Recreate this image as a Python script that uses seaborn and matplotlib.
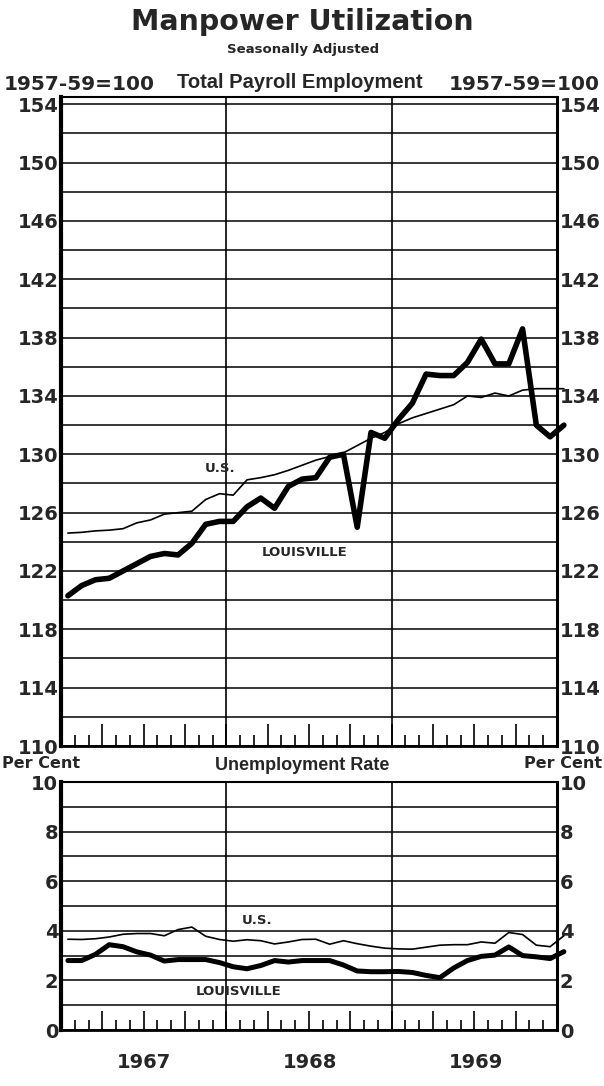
import numpy as np
import pandas as pd
import matplotlib
matplotlib.use("Agg")
import matplotlib.pyplot as plt
import seaborn as sns

# month positions: Jan 1967 .. Jan 1970 (centre of each month)
months = np.arange(37) + 0.5

# Total payroll employment, 1957-59=100
emp_louisville = [120.3, 121.0, 121.4, 121.5, 122.0, 122.5, 123.0, 123.2, 123.1, 123.9, 125.2, 125.4,
                  125.4, 126.4, 127.0, 126.3, 127.8, 128.3, 128.4, 129.8, 130.0, 125.0, 131.5, 131.1,
                  132.4, 133.5, 135.5, 135.4, 135.4, 136.3, 137.9, 136.2, 136.2, 138.6, 132.0, 131.2,
                  132.0]
emp_us = [124.6, 124.65, 124.75, 124.8, 124.9, 125.3, 125.5, 125.9, 126.0, 126.1, 126.9, 127.3,
          127.2, 128.25, 128.4, 128.6, 128.9, 129.25, 129.6, 129.85, 130.1, 130.6, 131.1, 131.5,
          132.1, 132.5, 132.8, 133.1, 133.4, 134.0, 133.9, 134.2, 134.0, 134.4, 134.5, 134.5,
          134.5]

# Unemployment rate, per cent
unemp_louisville = [2.8, 2.8, 3.05, 3.44, 3.36, 3.15, 3.02, 2.78, 2.84, 2.84, 2.84, 2.72,
                    2.55, 2.47, 2.6, 2.8, 2.74, 2.8, 2.8, 2.8, 2.62, 2.38, 2.35, 2.35,
                    2.36, 2.32, 2.2, 2.11, 2.5, 2.8, 2.97, 3.02, 3.35, 3.0, 2.95, 2.88,
                    3.16]
unemp_us = [3.66, 3.65, 3.68, 3.75, 3.86, 3.89, 3.89, 3.8, 4.05, 4.15, 3.78, 3.65,
            3.58, 3.64, 3.6, 3.47, 3.55, 3.65, 3.66, 3.46, 3.6, 3.48, 3.38, 3.3,
            3.27, 3.26, 3.34, 3.42, 3.44, 3.44, 3.55, 3.5, 3.93, 3.85, 3.42, 3.36,
            3.8]

years = ["1967", "1968", "1969"]

emp = pd.DataFrame({"month": months, "louisville": emp_louisville, "us": emp_us})
unemp = pd.DataFrame({"month": months, "louisville": unemp_louisville, "us": unemp_us})

sns.set_style("white")
plt.rcParams["font.family"] = ["DejaVu Sans"]

W, H = 604, 1086
fig = plt.figure(figsize=(W / 100, H / 100), dpi=100)


def rect(x0, y0, x1, y1):
    return [x0 / W, 1 - y1 / H, (x1 - x0) / W, (y1 - y0) / H]


def ftext(x, y, s, **kw):
    fig.text(x / W, 1 - y / H, s, va="center", **kw)


ax1 = fig.add_axes(rect(61, 97, 557, 746))
ax2 = fig.add_axes(rect(61, 782, 557, 1030))

narrow = ["Liberation Sans", "DejaVu Sans"]


def style_axis(ax, ylo, yhi, grid_step, label_step, tall, short):
    ax.set_xlim(0, 36)
    ax.set_ylim(ylo, yhi)
    ax.set_yticks(np.arange(ylo, yhi + 0.01, label_step))
    ax.set_yticks(np.arange(ylo, yhi + 0.01, grid_step), minor=True)
    ax.set_yticklabels([f"{v:g}" for v in np.arange(ylo, yhi + 0.01, label_step)],
                       fontsize=14, fontweight="bold")
    ax.tick_params(axis="y", which="both", length=0, labelleft=True, labelright=True, pad=2)
    ax.grid(axis="y", which="both", color="black", lw=1.1)
    ax.set_xticks(np.arange(0, 37, 3))
    ax.set_xticks(np.arange(0, 37, 1), minor=True)
    ax.set_xticklabels([])
    ax.tick_params(axis="x", which="major", direction="in", length=tall, width=1.2,
                   color="black", bottom=True, top=False)
    ax.tick_params(axis="x", which="minor", direction="in", length=short, width=1.2,
                   color="black", bottom=True, top=False)
    for x in (12, 24):
        ax.axvline(x, color="black", lw=1.2)
    ax.spines["left"].set_linewidth(3.0)
    ax.spines["right"].set_linewidth(2.2)
    ax.spines["top"].set_linewidth(1.5)
    ax.spines["bottom"].set_linewidth(2.0)
    for s in ax.spines.values():
        s.set_color("black")
    ax.set_xlabel("")
    ax.set_ylabel("")


sns.lineplot(data=emp, x="month", y="us", ax=ax1, color="black", lw=1.2, clip_on=False)
sns.lineplot(data=emp, x="month", y="louisville", ax=ax1, color="black", lw=4.0, clip_on=False)
style_axis(ax1, 110, 154, 2, 4, 16, 8)
ax1.set_ylim(110, 154.5)

sns.lineplot(data=unemp, x="month", y="us", ax=ax2, color="black", lw=1.2, clip_on=False)
sns.lineplot(data=unemp, x="month", y="louisville", ax=ax2, color="black", lw=3.6, clip_on=False)
style_axis(ax2, 0, 10, 1, 2, 14, 7.5)

# line labels
ax1.text(11.55, 129.0, "U.S.", fontsize=9.5, fontweight="bold", ha="center", va="center")
ax1.text(17.7, 123.3, "LOUISVILLE", fontsize=9.5, fontweight="bold", ha="center", va="center")
ax2.text(14.2, 4.4, "U.S.", fontsize=9.5, fontweight="bold", ha="center", va="center")
ax2.text(12.9, 1.55, "LOUISVILLE", fontsize=9.5, fontweight="bold", ha="center", va="center")

for i, yr in enumerate(years):
    ftext(61 + 166 * (i + 0.5), 1063, yr, fontsize=14, fontweight="bold", ha="center")

# headers
ftext(302, 22, "Manpower Utilization", fontsize=20.5, fontweight="bold", ha="center")
ftext(303, 50, "Seasonally Adjusted", fontsize=9.5, fontweight="bold", ha="center")
ftext(4, 84, "1957-59=100", fontsize=14.5, fontweight="bold", ha="left")
ftext(600, 84, "1957-59=100", fontsize=14.5, fontweight="bold", ha="right")
ftext(300, 83, "Total Payroll Employment", fontsize=14.5, fontweight="bold", ha="center", family=narrow)
ftext(2, 764, "Per Cent", fontsize=11.5, fontweight="bold", ha="left")
ftext(602, 764, "Per Cent", fontsize=11.5, fontweight="bold", ha="right")
ftext(302, 766, "Unemployment Rate", fontsize=13, fontweight="bold", ha="center", family=narrow)

fig.savefig("out.png", dpi=100, facecolor="white")
